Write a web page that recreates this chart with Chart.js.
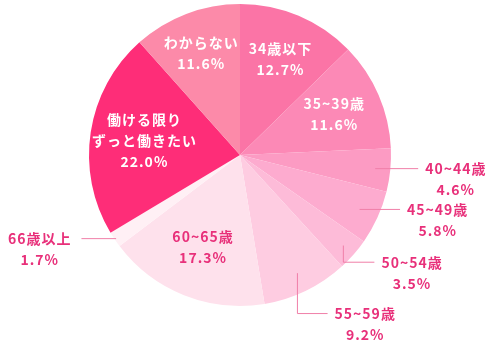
<!DOCTYPE html>
<html>
<head>
<meta charset="utf-8">
<script src="https://cdn.jsdelivr.net/npm/chart.js@4.4.0/dist/chart.umd.min.js"></script>
<style>
  html, body { margin: 0; padding: 0; background: #fff; }
  #wrap { width: 493px; height: 353px; }
</style>
</head>
<body>
<div id="wrap"><canvas id="pie" width="493" height="353"></canvas></div>
<script>
// data, clockwise from 12 o'clock
var labels = ['34歳以下', '35~39歳', '40~44歳', '45~49歳', '50~54歳', '55~59歳', '60~65歳', '66歳以上', '働ける限り\nずっと働きたい', 'わからない'];
var values = [12.7, 11.6, 4.6, 5.8, 3.5, 9.2, 17.3, 1.7, 22.0, 11.6];
var colors = ['#fb74a6', '#fc89b6', '#fc9bc3', '#fdabcf', '#fdbbd8', '#fecce1', '#fee1ec', '#fff0f5', '#fe2d78', '#fc8aa9'];

// how each label is placed (inside the slice, or out on a leader line)
var PINK = '#e8307a';
var LINE = '#f07fa8';
var layout = [
  { kind: 'in', r: 0.69, color: '#fff' },
  { kind: 'in', r: 0.68, color: '#fff' },
  { kind: 'out', r: 0.9, toX: 1.18, side: 'right' },
  { kind: 'out', r: 0.87, toX: 1.06, side: 'right' },
  { kind: 'out', r: 0.91, downTo: 0.71, toX: 0.89, side: 'right' },
  { kind: 'out', r: 0.87, downTo: 1.05, toX: 0.58, side: 'right' },
  { kind: 'in', r: 0.66, color: PINK },
  { kind: 'out', r: 0.99, toX: -1.05, side: 'left' },
  { kind: 'in', r: 0.64, color: '#fff' },
  { kind: 'in', r: 0.72, color: '#fff' }
];

var FONT = 'bold 14px "Noto Sans CJK JP", "Noto Sans", sans-serif';
var LH = 21;

var pieLabels = {
  id: 'pieLabels',
  afterDatasetsDraw: function (chart) {
    var ctx = chart.ctx;
    var arcs = chart.getDatasetMeta(0).data;
    ctx.save();
    ctx.font = FONT;
    ctx.letterSpacing = '1px';
    ctx.textBaseline = 'middle';
    ctx.textAlign = 'center';
    arcs.forEach(function (arc, i) {
      var p = arc.getProps(['x', 'y', 'startAngle', 'endAngle', 'outerRadius'], true);
      var mid = (p.startAngle + p.endAngle) / 2;
      var R = p.outerRadius;
      var L = layout[i];
      var lines = labels[i].split('\n').concat([values[i].toFixed(1) + '%']);
      var sx = p.x + Math.cos(mid) * R * L.r;
      var sy = p.y + Math.sin(mid) * R * L.r;
      if (L.kind === 'in') {
        ctx.fillStyle = L.color;
        var y0 = sy - (lines.length - 1) * LH / 2;
        lines.forEach(function (t, k) { ctx.fillText(t, sx, y0 + k * LH); });
        return;
      }
      // leader line
      var ey = L.downTo !== undefined ? p.y + R * L.downTo : sy;
      var ex = p.x + R * L.toX;
      ctx.strokeStyle = LINE;
      ctx.lineWidth = 1;
      ctx.beginPath();
      ctx.moveTo(sx, sy);
      if (L.downTo !== undefined) ctx.lineTo(sx, ey);
      ctx.lineTo(ex, ey);
      ctx.stroke();
      var w1 = ctx.measureText(lines[0]).width;
      var cx = L.side === 'right' ? ex + 7 + w1 / 2 : ex - 10 - w1 / 2;
      ctx.fillStyle = PINK;
      lines.forEach(function (t, k) { ctx.fillText(t, cx, ey + k * LH); });
    });
    ctx.restore();
  }
};

new Chart(document.getElementById('pie'), {
  type: 'pie',
  data: {
    labels: labels,
    datasets: [{
      data: values,
      backgroundColor: colors,
      borderWidth: 0
    }]
  },
  options: {
    responsive: false,
    animation: false,
    layout: { padding: { left: 89, right: 102, top: 4, bottom: 47 } },
    plugins: {
      legend: { display: false },
      tooltip: { enabled: false }
    }
  },
  plugins: [pieLabels]
});
</script>
</body>
</html>
